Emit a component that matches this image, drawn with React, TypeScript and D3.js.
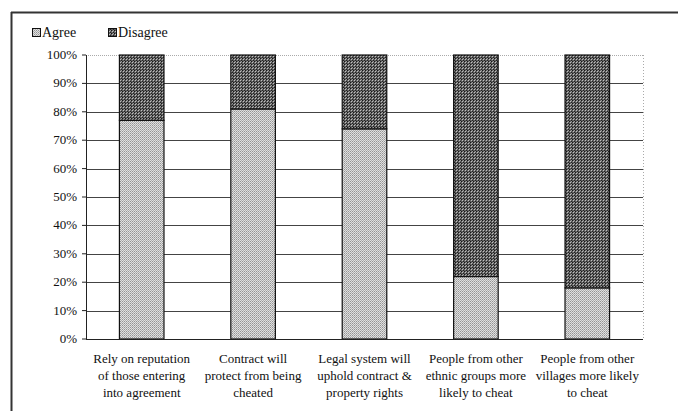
import React from "react";
import * as d3 from "d3";

const categories = [
  ["Rely on reputation", "of those entering", "into agreement"],
  ["Contract will", "protect from being", "cheated"],
  ["Legal system will", "uphold contract &", "property rights"],
  ["People from other", "ethnic groups more", "likely to cheat"],
  ["People from other", "villages more likely", "to cheat"],
];
const agree = [77, 81, 74, 22, 18];
const disagree = [23, 19, 26, 78, 82];
const ticks = [0, 10, 20, 30, 40, 50, 60, 70, 80, 90, 100];

const font = "Liberation Serif, DejaVu Serif, Tinos, FreeSerif, Times, serif";

const App = () => {
  const width = 678;
  const height = 411;
  // plot area
  const margin = { top: 55, right: 35, bottom: 72, left: 86 };
  const innerW = width - margin.left - margin.right;
  const innerH = height - margin.top - margin.bottom;

  const x = d3
    .scaleBand()
    .domain(categories.map((_, i) => String(i)))
    .range([0, innerW])
    .paddingInner(0.6)
    .paddingOuter(0.3);
  const y = d3.scaleLinear().domain([0, 100]).range([innerH, 0]);

  return (
    <svg
      width={width}
      height={height}
      fontFamily={font}
      style={{ position: "absolute", left: 0, top: 0, background: "#fff" }}
    >
      <defs>
        <pattern id="pAgree" width="2" height="2" patternUnits="userSpaceOnUse">
          <rect width="2" height="2" fill="#e0e0e0" />
          <rect width="1" height="1" fill="#949494" />
          <rect x="1" y="1" width="1" height="1" fill="#b0b0b0" />
        </pattern>
        <pattern id="pDis" width="3" height="3" patternUnits="userSpaceOnUse">
          <rect width="3" height="3" fill="#5e5e5e" />
          <rect width="1" height="1" fill="#161616" />
          <rect x="1" y="1" width="1" height="1" fill="#c0c0c0" />
          <rect x="2" y="2" width="1" height="1" fill="#222" />
          <rect x="2" y="0" width="1" height="1" fill="#999" />
        </pattern>
      </defs>

      {/* outer frame (left and top only visible) */}
      <line x1={11.5} y1={12} x2={11.5} y2={height} stroke="#333" strokeWidth={2} />
      <line x1={11} y1={12.5} x2={width} y2={12.5} stroke="#333" strokeWidth={2} />

      {/* legend */}
      <g fontSize={14} fill="#111">
        <rect x={32.5} y={28.5} width={8} height={8} fill="url(#pAgree)" stroke="#111" />
        <text x={42} y={37}>Agree</text>
        <rect x={108.5} y={28.5} width={8} height={8} fill="url(#pDis)" stroke="#111" />
        <text x={118} y={37}>Disagree</text>
      </g>

      <g transform={`translate(${margin.left},${margin.top})`}>
        {/* gridlines */}
        {ticks.map((t) => (
          <line
            key={"g" + t}
            x1={0}
            x2={innerW}
            y1={Math.round(y(t)) + 0.5}
            y2={Math.round(y(t)) + 0.5}
            stroke={t === 100 ? "#aaa" : "#444"}
            strokeDasharray={t === 100 ? "1,1" : undefined}
          />
        ))}
        {/* right dotted border */}
        <line x1={innerW + 0.5} x2={innerW + 0.5} y1={0} y2={innerH} stroke="#aaa" strokeDasharray="1,2" />

        {/* bars */}
        {categories.map((_, i) => {
          const bx = x(String(i))!;
          const bw = x.bandwidth();
          return (
            <g key={"b" + i}>
              <rect
                x={bx}
                y={y(agree[i])}
                width={bw}
                height={y(0) - y(agree[i])}
                fill="url(#pAgree)"
                stroke="#111"
                strokeWidth={1.2}
              />
              <rect
                x={bx}
                y={y(agree[i] + disagree[i])}
                width={bw}
                height={y(agree[i]) - y(agree[i] + disagree[i])}
                fill="url(#pDis)"
                stroke="#111"
                strokeWidth={1.2}
              />
            </g>
          );
        })}

        {/* y axis */}
        <line x1={0.5} x2={0.5} y1={0} y2={innerH} stroke="#222" />
        {ticks.map((t) => (
          <g key={"t" + t}>
            <line x1={-4} x2={0} y1={y(t)} y2={y(t)} stroke="#222" />
            <text x={-9} y={y(t) + 4} textAnchor="end" fontSize={13} fill="#111">
              {t}%
            </text>
          </g>
        ))}

        {/* x axis */}
        <line x1={0} x2={innerW} y1={innerH + 0.5} y2={innerH + 0.5} stroke="#222" />
        {categories.map((lines, i) => {
          const cx = x(String(i))! + x.bandwidth() / 2;
          return (
            <text key={"c" + i} textAnchor="middle" fontSize={13} fill="#111">
              {lines.map((l, j) => (
                <tspan key={j} x={cx} y={innerH + 24 + j * 17}>
                  {l}
                </tspan>
              ))}
            </text>
          );
        })}
      </g>
    </svg>
  );
};

export default App;
